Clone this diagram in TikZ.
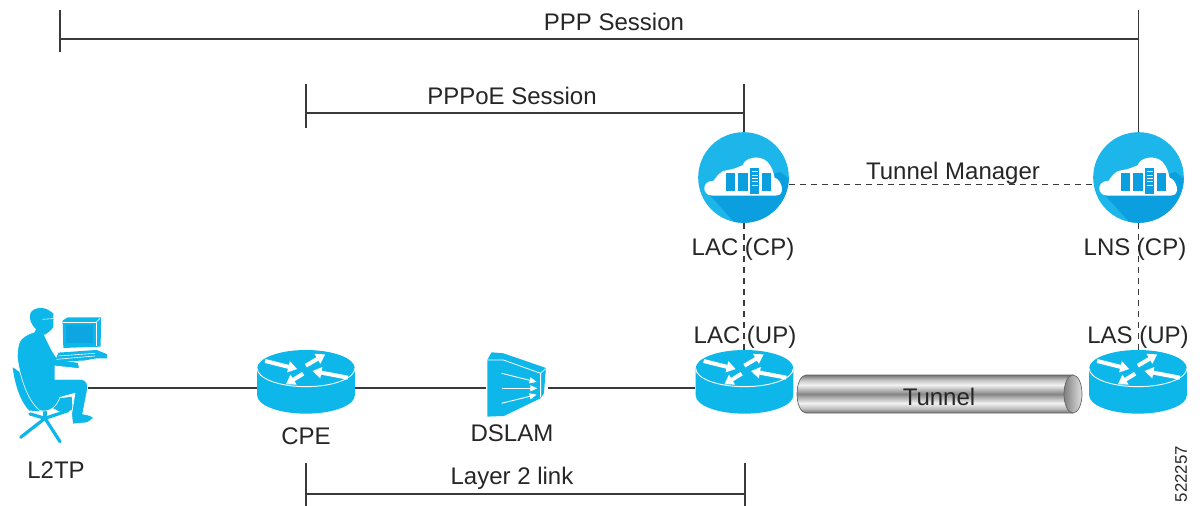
\documentclass[tikz,border=0pt]{standalone}
\usepackage{fontspec}
\setmainfont{Liberation Sans}
\usetikzlibrary{arrows.meta}
\definecolor{ciscoblue}{HTML}{0DB7E9}
\definecolor{circleblue}{HTML}{1CB6EA}
\definecolor{shadeblue}{HTML}{0C9FDF}
\definecolor{linegray}{HTML}{3A3A3A}
\pgfdeclareverticalshading{tunnelshade}{100bp}{
  color(0bp)=(black!55);
  color(25bp)=(black!55);
  color(31bp)=(black!25);
  color(38bp)=(black!5);
  color(50bp)=(black!48);
  color(62bp)=(black!5);
  color(69bp)=(black!25);
  color(75bp)=(black!55);
  color(100bp)=(black!55)}
\tikzset{
  lbl/.style={inner sep=0pt,text=black!85,font=\fontsize{24}{28}\selectfont},
  conn/.style={draw=linegray,line width=1.2pt},
  dashconn/.style={draw=linegray,line width=1.2pt,dash pattern=on 6pt off 5pt},
  hit/.style={rectangle,inner sep=0pt,minimum width=#1},
  rarrow/.style={white,line width=4pt,-{Triangle[width=11pt,length=9pt]}},
  routericon/.pic={
    \begin{scope}[x=0.3333pt,y=-0.3333pt,shift={(-198.5,-125)}]
      \fill[ciscoblue] (52,84) -- (52,165) arc[x radius=146.5,y radius=55,start angle=180,end angle=0] -- (345,84) -- cycle;
      \fill[ciscoblue] (198.5,84) ellipse[x radius=146.5,y radius=55];
      \draw[white,line width=0.9pt] (52,84) arc[x radius=146.5,y radius=55,start angle=180,end angle=0];
      \draw[rarrow] (76,62) -- (172,86);
      \draw[rarrow] (198,76) -- (256,42);
      \draw[rarrow] (190,100) -- (138,132);
      \draw[rarrow] (324,112) -- (218,92);
    \end{scope}
  },
  cloudicon/.pic={
    \begin{scope}[x=0.3333pt,y=-0.3333pt,shift={(-190,-172)}]
      \fill[circleblue] (190,172) circle[radius=136];
      \begin{scope}
        \clip (190,172) circle[radius=136];
        \fill[shadeblue] (90,226) -- (175,320) -- (345,320) -- (345,190) -- (300,155) -- cycle;
      \end{scope}
      \fill[white] (95,226) .. controls (66,226) and (62,182) .. (100,182)
        .. controls (108,170) and (122,150) .. (140,150)
        .. controls (160,148) and (175,140) .. (188,135)
        .. controls (192,115) and (235,100) .. (262,125)
        .. controls (275,140) and (280,155) .. (283,172)
        .. controls (305,178) and (318,226) .. (288,226) -- cycle;
      \fill[shadeblue] (137,157) rectangle (163,212);
      \fill[shadeblue] (173,157) rectangle (202,212);
      \fill[shadeblue] (208,144) rectangle (237,222);
      \fill[shadeblue] (245,157) rectangle (273,212);
      \foreach \yy in {154,164,...,194} {\draw[white,line width=0.5pt] (214,\yy) -- (232,\yy);}
    \end{scope}
  }
}
\begin{document}
\begin{tikzpicture}[x=1pt,y=-1pt]
\useasboundingbox[fill=white] (0,0) rectangle (1200,506);

% anchor nodes for the devices
\node[hit=88,minimum height=60] (user) at (44,388) {};
\node[hit=98,minimum height=76] (cpe) at (306,388) {};
\node[hit=62,minimum height=60] (dslam) at (517,388) {};
\node[hit=98,minimum height=76] (lacup) at (744,388) {};
\node[hit=98,minimum height=76] (lasup) at (1138.5,388) {};
\node[circle,inner sep=0pt,minimum size=91pt] (laccp) at (744,177.5) {};
\node[circle,inner sep=0pt,minimum size=91pt] (lnscp) at (1138.5,177.5) {};

% brackets
\coordinate (pppL1) at (60,10);
\coordinate (pppL2) at (60,52);
\coordinate (pppM) at (60,39);
\coordinate (pppR) at (1138.5,39);
\coordinate (pppT) at (1138.5,10);
\coordinate (poeL1) at (306,84);
\coordinate (poeL2) at (306,128);
\coordinate (poeM) at (306,113);
\coordinate (poeR) at (744,113);
\coordinate (poeT) at (744,84);
\coordinate (l2L1) at (306,463);
\coordinate (l2L2) at (306,506);
\coordinate (l2M) at (306,494);
\coordinate (l2R) at (745,494);
\coordinate (l2T) at (745,463);
\coordinate (l2B) at (745,506);
\draw[conn] (pppL1) -- (pppL2);
\draw[conn] (pppM) -- (pppR);
\draw[conn] (pppT) -- (lnscp.north);
\draw[conn] (poeL1) -- (poeL2);
\draw[conn] (poeM) -- (poeR);
\draw[conn] (poeT) -- (laccp.north);
\draw[conn] (l2L1) -- (l2L2);
\draw[conn] (l2M) -- (l2R);
\draw[conn] (l2T) -- (l2B);

% links
\draw[conn] (user.east) -- (cpe.west);
\draw[conn] (cpe.east) -- (dslam.west);
\draw[conn] (dslam.east) -- (lacup.west);
\draw[dashconn] (laccp.-9.5) -- (lnscp.189.5);
\draw[dashconn] (laccp.south) -- (lacup.north);
\draw[dashconn] (lnscp.south) -- (lasup.north);

% routers
\pic at (306,382) {routericon};
\pic at (744.5,382) {routericon};
\pic at (1138,382) {routericon};

% clouds
\pic at (743.5,177.5) {cloudicon};
\pic at (1138.5,177.5) {cloudicon};

% DSLAM
\begin{scope}[x=0.3333pt,y=-0.3333pt,shift={(720,1020)}]
  \fill[ciscoblue] (742,60) -- (755,37) -- (790,40) -- (918,84) -- (912,160) -- (902,175) -- (792,228) -- (742,230) -- cycle;
  \draw[white,line width=0.8pt] (742,60) -- (790,60) -- (902,100) -- (902,172);
  \draw[white,line width=0.8pt] (902,100) -- (917,86);
  \draw[white,line width=0.9pt,-{Triangle[width=6pt,length=7pt]}] (785,100) -- (890,126);
  \draw[white,line width=0.9pt,-{Triangle[width=6pt,length=7pt]}] (785,145) -- (892,145);
  \draw[white,line width=0.9pt,-{Triangle[width=6pt,length=7pt]}] (785,190) -- (890,164);
\end{scope}

% tunnel
\shade[shading=tunnelshade,draw=black!60,line width=0.7pt]
  (806,375) -- (1073,375) -- (1073,413) -- (806,413)
  arc[x radius=9,y radius=19,start angle=90,end angle=270] -- cycle;
\shade[left color=black!50,right color=black!12,draw=black!60,line width=0.7pt] (1073,394) ellipse[x radius=9,y radius=19];

% person
\begin{scope}[x=0.3333pt,y=-0.3333pt,shift={(0,870)}]
  % chair base
  \draw[ciscoblue,line width=3.2pt,line cap=round] (135,385) -- (62,442);
  \draw[ciscoblue,line width=3.2pt,line cap=round] (135,385) -- (180,455);
  \draw[ciscoblue,line width=3.2pt,line cap=round] (135,385) -- (90,372);
  \draw[ciscoblue,line width=3.2pt,line cap=round] (135,385) -- (205,362);
  \draw[ciscoblue,line width=4pt] (135,360) -- (135,385);
  % seat
  \fill[ciscoblue] (150,350) -- (180,325) -- (215,320) -- (218,358) -- (190,370) -- cycle;
  % chair back
  \fill[ciscoblue] (38,232) .. controls (45,290) and (65,340) .. (88,362)
    -- (128,364) -- (100,300) .. controls (85,270) and (60,245) .. (38,232) -- cycle;
  % legs and torso
  \fill[ciscoblue,draw=white,line width=0.6pt] (62,150) .. controls (80,130) and (110,122) .. (128,125)
    .. controls (145,160) and (160,195) .. (175,208)
    -- (235,218) -- (238,236) -- (165,228)
    -- (165,268) -- (245,268) .. controls (262,272) and (264,285) .. (262,300)
    -- (248,372) .. controls (265,375) and (280,378) .. (280,385)
    -- (262,398) -- (218,402) -- (215,372) -- (225,310) -- (180,322)
    .. controls (170,350) and (150,368) .. (120,362)
    .. controls (85,335) and (62,270) .. (52,205) .. controls (52,180) and (55,160) .. (62,150) -- cycle;
  % head
  \fill[ciscoblue] (90,75) .. controls (92,55) and (125,48) .. (145,60)
    -- (160,70) -- (160,112) -- (148,125) -- (135,134) -- (100,134) -- (108,118) .. controls (95,105) and (88,90) .. (90,75) -- cycle;
  \draw[white,line width=0.5pt] (128,88) -- (160,86);
  % monitor
  \fill[ciscoblue] (188,92) -- (203,82) -- (303,82) -- (302,170) -- (190,174) -- cycle;
  \fill[shadeblue!70!ciscoblue] (197,105) rectangle (280,160);
  \draw[white,line width=0.6pt] (190,98) -- (288,98) -- (288,168);
  \draw[white,line width=0.6pt] (288,98) -- (300,85);
  % keyboard
  \fill[ciscoblue] (175,188) -- (290,180) -- (320,192) -- (322,205) -- (290,205) -- (250,212) -- (165,214) -- cycle;
  \draw[white,line width=0.6pt] (175,198) -- (285,190);
  \draw[white,line width=0.6pt] (170,208) -- (285,198);
\end{scope}

% labels
\node[lbl] (tppp) at (614,22) {PPP Session};
\node[lbl] (tpoe) at (512,96) {PPPoE Session};
\node[lbl] (ttm) at (953,173) {Tunnel Manager};
\node[lbl] (tlaccp) at (743,249) {LAC (CP)};
\node[lbl] (tlnscp) at (1135,249) {LNS (CP)};
\node[lbl] (tlacup) at (745,337) {LAC (UP)};
\node[lbl] (tlasup) at (1138,337) {LAS (UP)};
\node[lbl] (ttun) at (939,397) {Tunnel};
\node[lbl] (tcpe) at (306,436) {CPE};
\node[lbl] (tdslam) at (512,433) {DSLAM};
\node[lbl] (tl2tp) at (56,470) {L2TP};
\node[lbl] (tl2) at (512,478) {Layer 2 link};
\node[inner sep=0pt,text=black!85,font=\fontsize{16.8}{20}\selectfont,rotate=90] (tnum) at (1181,474) {522257};
\end{tikzpicture}
\end{document}
